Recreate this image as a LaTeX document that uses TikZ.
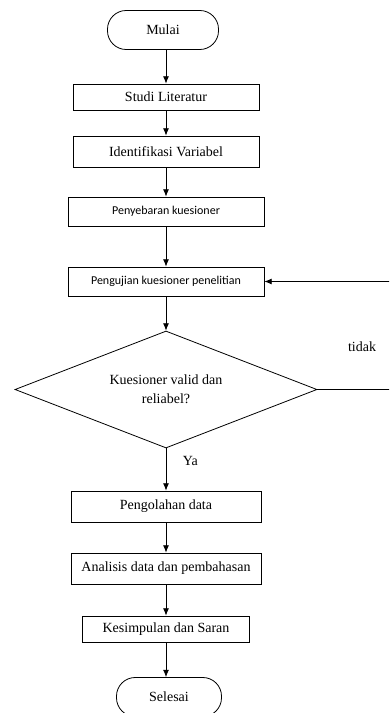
\documentclass[tikz,border=0pt]{standalone}
\usepackage{fontspec}
\setmainfont{Liberation Serif}
\newfontfamily\calibri{Carlito}
\usetikzlibrary{shapes.geometric,arrows.meta}
\begin{document}
\begin{tikzpicture}[x=0.75pt, y=-0.75pt,
    process/.style={draw, line width=0.6pt, inner sep=1pt, font=\fontsize{10.5}{12}\selectfont},
    sansprocess/.style={process, font=\calibri\fontsize{9}{11}\selectfont},
    terminal/.style={process, rounded corners=14pt, minimum height=29.25pt},
    decision/.style={draw, diamond, shape aspect=2.58, line width=0.6pt, minimum width=226.5pt, minimum height=87.75pt, inner sep=0pt, align=center, font=\fontsize{10.5}{14}\selectfont},
    flow/.style={-{Latex[length=5.5pt,width=4.5pt]}, line width=0.6pt}]
%			\draw[help lines] (0,0) grid (389,713);
			\clip (0,0) rectangle (389,713);
			\node[terminal, minimum width=83.25pt] (mulai) at (163, 30) {Mulai};
			\node[process, minimum width=139.5pt, minimum height=19.5pt] (studi) at (166, 97) {Studi Literatur};
			\node[process, minimum width=139.5pt, minimum height=23.25pt] (identifikasi) at (166, 151.5) {Identifikasi Variabel};
			\node[sansprocess, minimum width=147pt, minimum height=21.75pt] (penyebaran) at (166, 211.5) {Penyebaran kuesioner};
			\node[sansprocess, minimum width=147pt, minimum height=21.75pt] (pengujian) at (166, 281.5) {Pengujian kuesioner penelitian};
			\node[decision] (cek) at (166, 389.5) {Kuesioner valid dan\\reliabel?};
			\node[process, minimum width=142.5pt, minimum height=23.25pt] (pengolahan) at (166, 506.5) {Pengolahan data};
			\node[process, minimum width=142.5pt, minimum height=23.25pt] (analisis) at (166, 568.5) {Analisis data dan pembahasan};
			\node[process, minimum width=125.25pt, minimum height=19.5pt] (kesimpulan) at (166, 629) {Kesimpulan dan Saran};
			\node[terminal, minimum width=78.75pt] (selesai) at (169, 697) {Selesai};
			\coordinate (balik1) at (395, 389.5);
			\coordinate (balik2) at (395, 281.5);
			\draw[flow] (mulai.south -| studi) -- (studi);
			\draw[flow] (studi) -- (identifikasi);
			\draw[flow] (identifikasi) -- (penyebaran);
			\draw[flow] (penyebaran) -- (pengujian);
			\draw[flow] (pengujian) -- (cek);
			\draw[flow] (cek) -- node [pos=0.3, right=9pt, font=\fontsize{10.5}{12}\selectfont] {Ya} (pengolahan);
			\draw[flow] (pengolahan) -- (analisis);
			\draw[flow] (analisis) -- (kesimpulan);
			\draw[flow] (kesimpulan) -- (selesai.north -| kesimpulan);
			\draw[flow] (cek.east) -- (balik1) -- (balik2) -- (pengujian.east);
			\node[font=\fontsize{10.5}{12}\selectfont] (tidak) at (362, 347) {tidak};
		\end{tikzpicture}
\end{document}
